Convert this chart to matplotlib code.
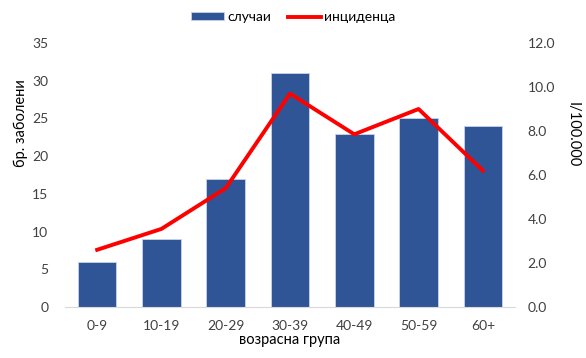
import matplotlib
matplotlib.use("Agg")
import matplotlib.pyplot as plt
import numpy as np

categories = ["0-9", "10-19", "20-29", "30-39", "40-49", "50-59", "60+"]
cases = [6, 9, 17, 31, 23, 25, 24]
incidence = [2.6, 3.55, 5.4, 9.7, 7.85, 9.0, 6.2]

plt.rcParams['font.family'] = ['Lato', 'DejaVu Sans']
W, H = 586, 358
fig = plt.figure(figsize=(W / 100, H / 100), dpi=100)
ax = fig.add_axes([65 / W, 1 - 307 / H, 450 / W, (307 - 43) / H])
x = np.arange(len(categories))
bars = ax.bar(x, cases, width=0.6, color="#2F5597", edgecolor="#C9D3E8", linewidth=0.6,
              label="случаи", zorder=2)
ax.set_xlim(-0.5, len(categories) - 0.5)
ax.set_ylim(0, 35)
ax.set_yticks(range(0, 36, 5))
ax.set_xticks(x)
ax.set_xticklabels(categories)
for s in ["top", "right", "left"]:
    ax.spines[s].set_visible(False)
ax.spines["bottom"].set_color("#D9D9D9")
ax.tick_params(axis="both", length=0, labelsize=10, colors="#404040")
ax.tick_params(axis="x", pad=9)
ax.tick_params(axis="y", pad=12)
ax.set_xlabel("возрасна група", fontsize=10.5, color="#000000", labelpad=1)

ax2 = ax.twinx()
line, = ax2.plot(x, incidence, color="#FF0000", lw=2.8, label="инциденца", zorder=3)
ax2.set_ylim(0, 12)
ax2.set_yticks(np.arange(0, 12.1, 2))
ax2.set_yticklabels([f"{v:.1f}" for v in np.arange(0, 12.1, 2)])
for s in ["top", "right", "left", "bottom"]:
    ax2.spines[s].set_visible(False)
ax2.tick_params(axis="y", length=0, labelsize=10, colors="#404040", pad=9)

fig.text(21 / W, 1 - 123 / H, "бр. заболени", rotation=90, ha="center", va="center", fontsize=10.5)
fig.text(573 / W, 1 - 135 / H, "I/100.000", rotation=270, ha="center", va="center", fontsize=10.5)

fig.legend([bars, line], ["случаи", "инциденца"], loc="center", bbox_to_anchor=(0.5, 1 - 17 / H),
           ncol=2, frameon=False, fontsize=10, handlelength=2.4, handleheight=0.5,
           handletextpad=0.2, columnspacing=1.2)
fig.savefig("out.png", dpi=100)
